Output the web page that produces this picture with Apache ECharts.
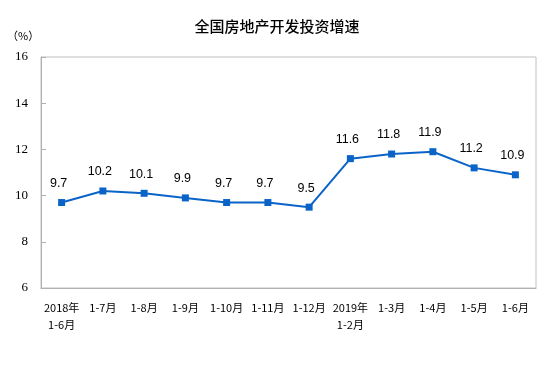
<!DOCTYPE html>
<html><head><meta charset="utf-8">
<script src="https://cdn.jsdelivr.net/npm/echarts@6/dist/echarts.min.js"></script>
<style>html,body{margin:0;padding:0;background:#fff}#c{width:554px;height:367px}</style>
</head><body><div id="c"></div>
<script>
const categories = ['2018年\n1-6月','1-7月','1-8月','1-9月','1-10月','1-11月','1-12月','2019年\n1-2月','1-3月','1-4月','1-5月','1-6月'];
const growth = [9.7, 10.2, 10.1, 9.9, 9.7, 9.7, 9.5, 11.6, 11.8, 11.9, 11.2, 10.9];
const yTicks = [6, 8, 10, 12, 14, 16];

const chart = echarts.init(document.getElementById('c'));
chart.setOption({
  animation: false,
  backgroundColor: '#fff',
  title: {
    text: '全国房地产开发投资增速',
    left: 'center', top: 14,
    textStyle: {fontFamily: 'Noto Sans CJK SC', fontSize: 15, fontWeight: 500, color: '#000'}
  },
  graphic: [{
    type: 'text', left: 7, top: 30,
    style: {text: '（%）', fontFamily: 'Noto Sans CJK SC', fontSize: 11, fill: '#000'}
  }],
  grid: {left: 41, right: 18, top: 57, bottom: 79, show: true, borderColor: '#c0c0c0', borderWidth: 1, backgroundColor: 'transparent'},
  xAxis: {
    type: 'category', data: categories, boundaryGap: true,
    axisLine: {lineStyle: {color: '#b0b0b0'}},
    axisTick: {inside: true, length: 5, lineStyle: {color: '#b0b0b0'}},
    axisLabel: {color: '#000', fontFamily: 'Noto Sans CJK SC', fontSize: 11, margin: 11, lineHeight: 17, interval: 0}
  },
  yAxis: {
    type: 'value', min: yTicks[0], max: yTicks[yTicks.length-1], interval: 2,
    axisLine: {show: true, lineStyle: {color: '#b0b0b0'}},
    axisTick: {show: true, inside: true, length: 5, lineStyle: {color: '#b0b0b0'}},
    splitLine: {show: false},
    axisLabel: {color: '#000', fontFamily: 'Liberation Serif', fontSize: 13, margin: 13}
  },
  series: [{
    type: 'line', data: growth,
    symbol: 'rect', symbolSize: 7,
    lineStyle: {color: '#0a64c8', width: 2},
    itemStyle: {color: '#0a64c8'},
    label: {show: true, position: 'top', distance: 9, color: '#000', fontFamily: 'Liberation Sans', fontSize: 12.5, offset: [-3, 0]}
  }]
});
</script></body></html>
